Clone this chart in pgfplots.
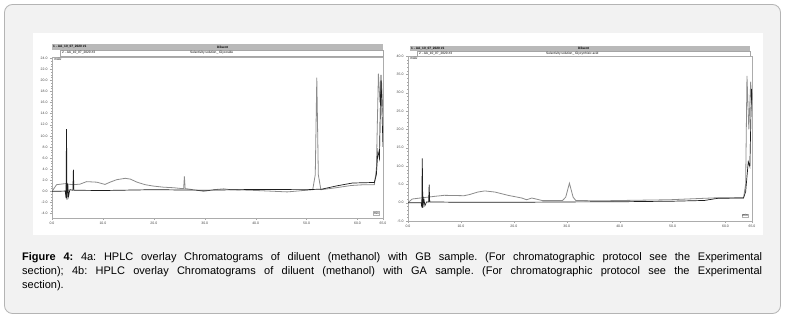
\documentclass[border=0pt]{standalone}
\usepackage{fontspec}
\setmainfont{Liberation Sans}
\usepackage{pgfplots}
\pgfplotsset{compat=1.18}
\definecolor{bgc}{HTML}{F2F2F2}
\definecolor{brd}{HTML}{B4B4B4}
\definecolor{sampc}{HTML}{8C8C8C}
\definecolor{dilc}{HTML}{1E1E1E}
\definecolor{hdr}{HTML}{B9B9B9}
\pgfplotsset{chrom/.style={
  scale only axis,
  axis line style={gray!65, line width=0.7pt},
  tick style={gray!70, line width=0.3pt},
  tick align=outside, major tick length=2pt, minor tick length=1pt,
  xtick pos=bottom, ytick pos=left,
  xmin=0, xmax=65, xtick={0,10,20,30,40,50,60,65}, minor x tick num=4,
  ticklabel style={font=\fontsize{3.5}{4}\selectfont, text=gray!55!black},
  xticklabel style={yshift=1pt},
  yticklabel style={xshift=1pt},
  /pgf/number format/fixed, /pgf/number format/fixed zerofill,
  /pgf/number format/precision=1, /pgf/number format/assume math mode=true,
  clip=true,
}}
\newcommand{\hf}{\fontsize{3.2}{3.6}\selectfont}
\frenchspacing
\begin{document}
\begin{tikzpicture}
\begin{scope}[x=1pt,y=1pt]
\path[use as bounding box] (0,0) rectangle (785,318);
\fill[white] (0,0) rectangle (785,318);
\draw[brd, fill=bgc, rounded corners=8pt, line width=0.8pt] (4.5,4.5) rectangle (780.5,313.5);
\fill[white] (33,83) rectangle (763,285);
% headers left
\fill[hdr] (52,268) rectangle (383,274);
\draw[gray!70, fill=white, line width=0.3pt] (60,262) rectangle (383,268);
\node[anchor=west, inner sep=0pt, font=\hf\bfseries] at (53,271) {1 - AA\_10\_07\_2020 \#1};
\node[anchor=west, inner sep=0pt, font=\hf\bfseries] at (217,271) {Diluent};
\node[anchor=west, inner sep=0pt, font=\hf] at (62,265) {2 - AA\_10\_07\_2020 \#3};
\node[anchor=west, inner sep=0pt, font=\hf] at (190,265) {Selectivity solution\_ Glycoside};
% headers right
\fill[hdr] (410,267) rectangle (750,272);
\draw[gray!70, fill=white, line width=0.3pt] (417,262) rectangle (750,267);
\node[anchor=west, inner sep=0pt, font=\hf\bfseries] at (411,269.5) {1 - AA\_10\_07\_2020 \#1};
\node[anchor=west, inner sep=0pt, font=\hf\bfseries] at (578,269.5) {Diluent};
\node[anchor=west, inner sep=0pt, font=\hf] at (419,264.5) {2 - AA\_10\_07\_2020 \#3};
\node[anchor=west, inner sep=0pt, font=\hf] at (546,264.5) {Selectivity solution\_ Glycyrrhizic acid};
% caption
\node[anchor=base west, inner sep=0pt, font=\fontsize{11}{13}\selectfont] at (22,57)
  {\makebox[740pt][s]{\textbf{Figure 4:} 4a: HPLC overlay Chromatograms of diluent (methanol) with GB sample. (For chromatographic protocol see the Experimental}};
\node[anchor=base west, inner sep=0pt, font=\fontsize{11}{13}\selectfont] at (22,43)
  {\makebox[740pt][s]{section); 4b: HPLC overlay Chromatograms of diluent (methanol) with GA sample. (For chromatographic protocol see the Experimental}};
\node[anchor=base west, inner sep=0pt, font=\fontsize{11}{13}\selectfont] at (22,29)
  {section).};
\end{scope}

% ---------- left chromatogram (4a) ----------
\begin{axis}[chrom, at={(52pt,100pt)}, anchor=south west, width=331pt, height=161pt,
  ymin=-4.8, ymax=24.2, ytick={-4,-2,...,24}, minor y tick num=3]
\addplot[sampc, line width=0.8pt] coordinates {
(0,0) (0.9,1.2) (2.2,1.35) (2.7,1.4) (2.9,1.1) (3.1,1.3) (4.2,1.2) (5.5,1.3) (6.8,1.75)
(8.8,1.65) (10.4,1.25) (11.4,1.65) (12.7,2.1) (14.4,2.35) (15.4,2.2) (16.7,1.65)
(18.3,1.2) (19.9,0.95) (21.9,0.75) (23.9,0.65) (25.5,0.5) (25.85,0.5) (26.0,2.7)
(26.15,0.5) (28.5,0.2) (29.8,0.0) (31.8,0.3) (33.7,0.45) (35,0.3) (39,0.2) (46.2,-0.1)
(51.2,0.3) (51.7,3) (52.0,20.5) (52.3,3) (52.8,0.3) (55.4,0.6) (58.7,1.05) (61.3,1.2)
(63.3,1.2) (63.7,4) (64.1,21.2) (64.4,16) (64.7,20) (65,14)};
\addplot[dilc, line width=0.7pt] coordinates {
(0,0) (2.6,0.05) (2.75,-1.2) (2.85,11.2) (2.95,-1.5) (3.1,1.4) (3.25,-0.9) (3.5,0.3)
(4.1,0.2) (4.2,3.9) (4.3,0.2) (10,0.15) (20,0.3) (30,0.2) (40,0.35) (50,0.3) (53,0.4)
(56,1.0) (59,1.5) (63.3,1.6) (63.7,3) (64.0,7.3) (64.3,5.9) (64.6,21) (65,8)};
\node[anchor=north west, inner sep=0.5pt, font=\hf] at (rel axis cs:0.005,0.995) {mAU};
\node[anchor=south east, draw=gray!60, line width=0.2pt, inner sep=0.6pt, font=\hf] at (rel axis cs:0.99,0.02) {min};
\end{axis}

% ---------- right chromatogram (4b) ----------
\begin{axis}[chrom, at={(408pt,97pt)}, anchor=south west, width=344pt, height=165pt,
  ymin=-5, ymax=40, ytick={-5,0,...,40}, minor y tick num=4]
\addplot[sampc, line width=0.8pt] coordinates {
(0,0) (0.8,1.0) (2.35,1.27) (4.9,1.7) (6.8,2.0) (10.6,1.9) (11.6,2.2) (13.2,2.9)
(14.5,3.2) (16.4,2.9) (18.9,2.0) (21.5,1.27) (22.4,0.8) (23.4,1.27) (25.3,0.6)
(29.2,0.6) (29.8,1.5) (30.5,5.3) (31.2,1.5) (31.7,0.6) (36.1,0.5) (49.5,0.8)
(57.8,1.3) (63.4,1.3) (63.8,5) (64.05,34.6) (64.4,20) (64.75,33) (65,25)};
\addplot[dilc, line width=0.7pt] coordinates {
(0,0) (2.5,0) (2.6,-1.3) (2.7,12.1) (2.8,-1.4) (3.0,1.0) (3.2,-0.8) (3.5,0.2)
(3.9,0.2) (4.0,4.9) (4.1,0.2) (10,0.1) (20,0.1) (30,0.2) (40,0.25) (50,0.4)
(56,0.6) (58.6,1.2) (63.4,1.27) (63.8,3) (64.3,11.2) (64.6,9.8) (64.9,31) (65,28)};
\node[anchor=north west, inner sep=0.5pt, font=\hf] at (rel axis cs:0.005,0.995) {mAU};
\node[anchor=south east, draw=gray!60, line width=0.2pt, inner sep=0.6pt, font=\hf] at (rel axis cs:0.99,0.02) {min};
\end{axis}
\end{tikzpicture}
\end{document}
